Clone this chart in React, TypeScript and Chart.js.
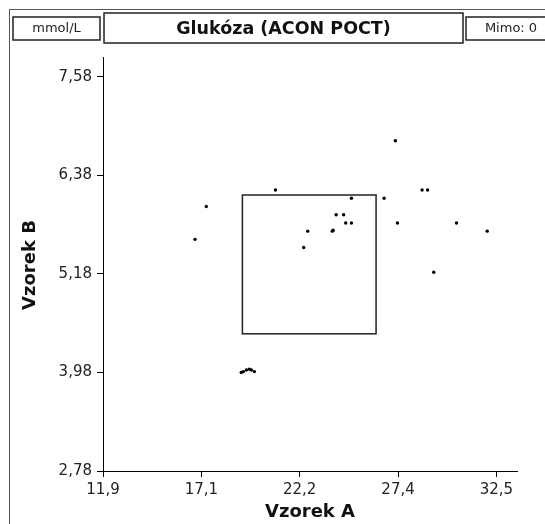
import React, { useEffect, useRef } from "react";
import { Chart, registerables } from "chart.js";

Chart.register(...registerables);

// Data
const vzorekA = [27.21, 20.93, 28.61, 28.9, 17.31, 24.91, 26.62, 24.11, 24.5, 24.61, 24.91, 27.32, 30.41, 22.62, 23.91, 23.95, 32.02, 16.72, 22.41, 29.22, 19.14, 19.25, 19.41, 19.56, 19.67, 19.83];
const vzorekB = [6.8, 6.2, 6.2, 6.2, 6.0, 6.1, 6.1, 5.9, 5.9, 5.8, 5.8, 5.8, 5.8, 5.7, 5.7, 5.71, 5.7, 5.6, 5.5, 5.2, 3.98, 3.99, 4.01, 4.02, 4.01, 3.99];

const xTickValues = [11.9, 17.05, 22.2, 27.35, 32.5];
const xTickLabels = ["11,9", "17,1", "22,2", "27,4", "32,5"];
const yTickValues = [2.78, 3.98, 5.18, 6.38, 7.58];
const yTickLabels = ["2,78", "3,98", "5,18", "6,38", "7,58"];
const xRange = [11.9, 33.58];
const yRange = [2.78, 7.82];

// Tolerance box (data coordinates)
const boxX = [19.2, 26.2];
const boxY = [4.45, 6.14];

const titleText = "Glukóza (ACON POCT)";
const unitText = "mmol/L";
const outText = "Mimo: 0";
const xTitle = "Vzorek A";
const yTitle = "Vzorek B";

const FONT = "'DejaVu Sans', Verdana, sans-serif";

const decorPlugin = {
  id: "decor",
  afterDraw(chart: any) {
    const ctx = chart.ctx as CanvasRenderingContext2D;
    const xs = chart.scales.x;
    const ys = chart.scales.y;
    ctx.save();
    // outer frame
    ctx.strokeStyle = "#555";
    ctx.lineWidth = 1;
    ctx.strokeRect(9.5, 9.5, 700, 700);

    // header boxes
    ctx.strokeStyle = "#222";
    ctx.lineWidth = 1.5;
    ctx.strokeRect(13, 17, 87, 23);
    ctx.strokeRect(104, 13, 359, 30);
    ctx.strokeRect(466, 17, 90, 23);

    ctx.fillStyle = "#222";
    ctx.textAlign = "center";
    ctx.textBaseline = "middle";
    ctx.font = `13px ${FONT}`;
    ctx.fillText(unitText, 56.5, 29);
    ctx.fillText(outText, 511, 29);
    ctx.fillStyle = "#111";
    ctx.font = `bold 17.5px ${FONT}`;
    ctx.fillText(titleText, 283.5, 29);

    // tolerance box
    const l = xs.getPixelForValue(boxX[0]);
    const r = xs.getPixelForValue(boxX[1]);
    const t = ys.getPixelForValue(boxY[1]);
    const b = ys.getPixelForValue(boxY[0]);
    ctx.strokeStyle = "#222";
    ctx.lineWidth = 1.5;
    ctx.strokeRect(l, t, r - l, b - t);

    // axis titles
    ctx.fillStyle = "#111";
    ctx.font = `bold 18px ${FONT}`;
    ctx.fillText(xTitle, (chart.chartArea.left + chart.chartArea.right) / 2, 512);
    ctx.translate(30, 265);
    ctx.rotate(-Math.PI / 2);
    ctx.fillText(yTitle, 0, 0);
    ctx.restore();
  },
};

export default function App() {
  const ref = useRef<HTMLCanvasElement | null>(null);
  useEffect(() => {
    if (!ref.current) return;
    const points = vzorekA.map((x, i) => ({ x, y: vzorekB[i] }));
    const chart = new Chart(ref.current, {
      type: "scatter",
      data: {
        datasets: [
          {
            data: points,
            pointRadius: 1.7,
            pointHoverRadius: 1.7,
            backgroundColor: "#000",
            borderColor: "#000",
            borderWidth: 0,
          },
        ],
      },
      options: {
        animation: false,
        responsive: false,
        devicePixelRatio: 1,
        layout: { padding: { left: 0, top: 57, right: 28, bottom: 0 } },
        plugins: { legend: { display: false }, tooltip: { enabled: false }, title: { display: false } },
        scales: {
          x: {
            type: "linear",
            min: xRange[0],
            max: xRange[1],
            afterBuildTicks: (s: any) => {
              s.ticks = xTickValues.map((v) => ({ value: v }));
            },
            afterFit: (s: any) => {
              s.height = 53;
            },
            ticks: {
              autoSkip: false,
              maxRotation: 0,
              padding: 4,
              color: "#222",
              font: { family: FONT, size: 15 },
              callback: (v: any) => {
                const i = xTickValues.indexOf(Number(v));
                return i >= 0 ? xTickLabels[i] : "";
              },
            },
            grid: { drawOnChartArea: false, drawTicks: true, tickLength: 6, color: "#000", lineWidth: 1 },
            border: { display: true, color: "#000", width: 1 },
          },
          y: {
            type: "linear",
            min: yRange[0],
            max: yRange[1],
            afterBuildTicks: (s: any) => {
              s.ticks = yTickValues.map((v) => ({ value: v }));
            },
            afterFit: (s: any) => {
              s.width = 103;
            },
            ticks: {
              autoSkip: false,
              padding: 5,
              color: "#222",
              font: { family: FONT, size: 15 },
              callback: (v: any) => {
                const i = yTickValues.indexOf(Number(v));
                return i >= 0 ? yTickLabels[i] : "";
              },
            },
            grid: { drawOnChartArea: false, drawTicks: true, tickLength: 6, color: "#000", lineWidth: 1 },
            border: { display: true, color: "#000", width: 1 },
          },
        },
      },
      plugins: [decorPlugin],
    });
    return () => chart.destroy();
  }, []);
  return (
    <div style={{ position: "fixed", left: 0, top: 0, width: 545, height: 524, background: "#fff" }}>
      <canvas ref={ref} width={545} height={524} style={{ display: "block", width: 545, height: 524 }} />
    </div>
  );
}
